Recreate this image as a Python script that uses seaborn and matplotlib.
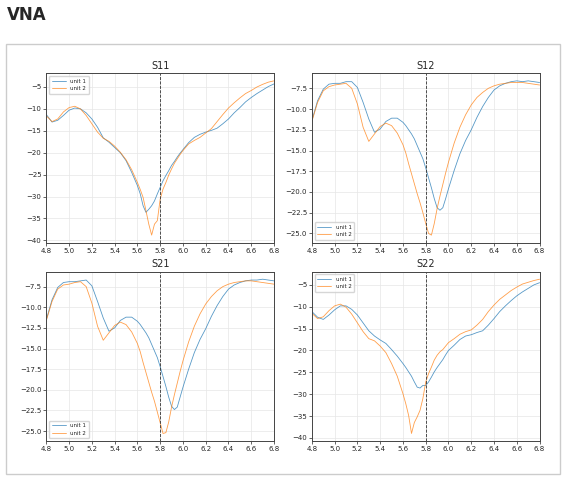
import numpy as np
import pandas as pd
import matplotlib
matplotlib.use("Agg")
import matplotlib.pyplot as plt
import seaborn as sns
from matplotlib.patches import Rectangle

# frequency grid (GHz), finer around the dips
freq = [4.80, 4.85, 4.90, 4.95, 5.00, 5.05, 5.10, 5.15, 5.20, 5.25, 5.30, 5.35, 5.40, 5.45, 5.50, 5.55, 5.60,
        5.625, 5.65, 5.675, 5.70, 5.725, 5.75, 5.775, 5.80, 5.825, 5.85, 5.875, 5.90, 5.925, 5.95, 5.975, 6.00,
        6.05, 6.10, 6.15, 6.20, 6.25, 6.30, 6.35, 6.40, 6.45, 6.50, 6.55, 6.60, 6.65, 6.70, 6.75, 6.80]

s11_unit1 = [-11.3, -13.0, -12.6, -11.5, -10.3, -9.8, -10.0, -10.9, -12.3, -14.2, -16.6, -17.6, -18.8, -20.0, -21.8, -24.5, -27.5,
             -29.4, -32.1, -33.6, -32.9, -32.1, -31.0, -29.4, -27.9, -26.4, -25.2, -24.1, -22.9, -22.0, -21.0, -20.1, -19.3,
             -17.7, -16.5, -15.8, -15.3, -14.9, -14.4, -13.4, -12.3, -10.9, -9.7, -8.4, -7.4, -6.5, -5.7, -4.9, -4.3]
s11_unit2 = [-11.6, -12.9, -12.3, -10.7, -9.7, -9.4, -10.0, -11.5, -13.4, -15.3, -16.7, -17.4, -18.5, -19.9, -21.6, -23.9, -26.8,
             -28.4, -30.2, -33.2, -36.3, -38.8, -36.3, -35.5, -30.6, -28.3, -26.8, -25.1, -23.7, -22.4, -21.4, -20.4, -19.5,
             -18.0, -17.2, -16.5, -15.5, -14.5, -12.9, -11.3, -9.8, -8.6, -7.5, -6.5, -5.8, -5.0, -4.4, -3.9, -3.6]

s12_unit1 = [-11.4, -9.0, -7.6, -7.0, -6.9, -6.9, -6.7, -6.7, -7.4, -9.2, -11.2, -12.8, -12.4, -11.5, -11.1, -11.1, -11.6,
             -12.0, -12.5, -13.0, -13.6, -14.4, -15.2, -16.0, -17.1, -18.3, -19.5, -20.8, -21.9, -22.2, -21.9, -20.8, -19.6,
             -17.4, -15.4, -13.8, -12.5, -11.0, -9.7, -8.6, -7.7, -7.2, -6.9, -6.7, -6.6, -6.7, -6.6, -6.7, -6.8]
s12_unit2 = [-11.5, -9.2, -7.8, -7.3, -7.1, -7.0, -6.9, -7.5, -9.4, -12.2, -13.9, -13.0, -12.1, -11.7, -12.0, -12.9, -14.3,
             -15.3, -16.6, -17.8, -19.0, -20.2, -21.3, -22.5, -23.8, -25.0, -25.2, -23.8, -22.0, -20.5, -19.1, -17.7, -16.4,
             -14.1, -12.2, -10.7, -9.5, -8.6, -8.0, -7.5, -7.2, -7.0, -6.9, -6.8, -6.8, -6.8, -6.9, -7.0, -7.1]

s21_unit1 = [-11.5, -9.1, -7.6, -7.0, -6.9, -6.9, -6.8, -6.7, -7.4, -9.3, -11.3, -12.9, -12.5, -11.6, -11.2, -11.2, -11.7,
             -12.1, -12.6, -13.1, -13.7, -14.5, -15.3, -16.1, -17.2, -18.4, -19.6, -20.9, -22.0, -22.4, -22.1, -20.9, -19.7,
             -17.5, -15.5, -13.9, -12.6, -11.1, -9.8, -8.7, -7.8, -7.3, -7.0, -6.8, -6.7, -6.7, -6.6, -6.7, -6.8]
s21_unit2 = [-11.6, -9.3, -7.8, -7.3, -7.2, -7.0, -6.9, -7.5, -9.5, -12.3, -14.0, -13.1, -12.2, -11.8, -12.1, -13.0, -14.4,
             -15.4, -16.7, -17.9, -19.1, -20.3, -21.4, -22.7, -24.0, -25.3, -25.2, -23.9, -22.1, -20.6, -19.2, -17.8, -16.5,
             -14.2, -12.3, -10.8, -9.6, -8.7, -8.0, -7.5, -7.2, -7.0, -6.9, -6.8, -6.8, -6.9, -7.0, -7.1, -7.2]

s22_unit1 = [-11.1, -12.4, -12.9, -11.9, -10.7, -9.8, -9.8, -10.6, -11.9, -13.7, -15.5, -16.7, -17.6, -18.4, -19.8, -21.3, -23.0,
             -23.9, -24.9, -25.9, -27.2, -28.4, -28.6, -28.0, -28.0, -27.2, -26.1, -24.9, -23.9, -23.0, -22.1, -21.0, -20.0,
             -18.8, -17.5, -16.7, -16.4, -15.9, -15.5, -14.2, -12.7, -11.1, -9.8, -8.6, -7.5, -6.6, -5.8, -5.0, -4.5]
s22_unit2 = [-11.5, -12.7, -12.3, -10.9, -9.8, -9.4, -10.1, -11.7, -13.7, -15.7, -17.3, -17.8, -19.0, -20.5, -23.0, -25.9, -29.9,
             -32.2, -34.9, -39.0, -36.5, -35.2, -33.7, -31.0, -27.2, -25.3, -23.8, -22.2, -21.1, -20.3, -19.8, -19.0, -18.2,
             -17.3, -16.3, -15.7, -15.3, -14.2, -12.9, -11.1, -9.6, -8.3, -7.3, -6.3, -5.5, -4.8, -4.4, -4.0, -3.7]

params = ["S11", "S12", "S21", "S22"]
units = ["unit 1", "unit 2"]
series = {
    "S11": [s11_unit1, s11_unit2],
    "S12": [s12_unit1, s12_unit2],
    "S21": [s21_unit1, s21_unit2],
    "S22": [s22_unit1, s22_unit2],
}
marker_freq = 5.8
legend_loc = {"S11": "upper left", "S12": "lower left", "S21": "lower left", "S22": "upper left"}

rows = []
for p in params:
    for u, vals in zip(units, series[p]):
        for f, v in zip(freq, vals):
            rows.append((p, u, f, v))
df = pd.DataFrame(rows, columns=["param", "unit", "freq", "dB"])

sns.set_style("ticks")
plt.rcParams["font.family"] = ["DejaVu Sans"]

fig = plt.figure(figsize=(5.65, 4.78), dpi=100)
fig.text(0.012, 0.968, "VNA", fontsize=12, fontweight="bold", va="center", ha="left")
fig.patches.append(Rectangle((0.011, 0.009), 0.98, 0.899, transform=fig.transFigure,
                             fill=False, edgecolor="#cccccc", linewidth=1.0))

positions = {
    "S11": [0.082, 0.492, 0.403, 0.355],
    "S12": [0.552, 0.492, 0.403, 0.355],
    "S21": [0.082, 0.077, 0.403, 0.355],
    "S22": [0.552, 0.077, 0.403, 0.355],
}
palette = {"unit 1": "#1f77b4", "unit 2": "#ff7f0e"}

for p in params:
    ax = fig.add_axes(positions[p])
    sns.lineplot(data=df[df["param"] == p], x="freq", y="dB", hue="unit", palette=palette,
                 estimator=None, linewidth=0.6, alpha=0.75, ax=ax)
    ax.axvline(marker_freq, color="#333333", linestyle="--", linewidth=0.6)
    ax.set_xlim(4.8, 6.8)
    ax.set_xticks(np.arange(4.8, 6.81, 0.2))
    if p in ("S12", "S21"):
        ax.set_yticks(np.arange(-25, -7.4, 2.5))
    else:
        ax.set_yticks(np.arange(-40, -4.9, 5))
    ax.grid(True, color="#e6e6e6", linewidth=0.5)
    ax.set_xlabel("")
    ax.set_ylabel("")
    ax.set_title(p, fontsize=7, pad=3)
    ax.tick_params(labelsize=5, length=2, width=0.5, pad=1.5)
    for s in ax.spines.values():
        s.set_linewidth(0.7)
        s.set_color("#444444")
    ax.legend(loc=legend_loc[p], fontsize=4, frameon=True, handlelength=2.5,
              borderpad=0.5, labelspacing=0.4)

fig.savefig("out.png", dpi=100)
